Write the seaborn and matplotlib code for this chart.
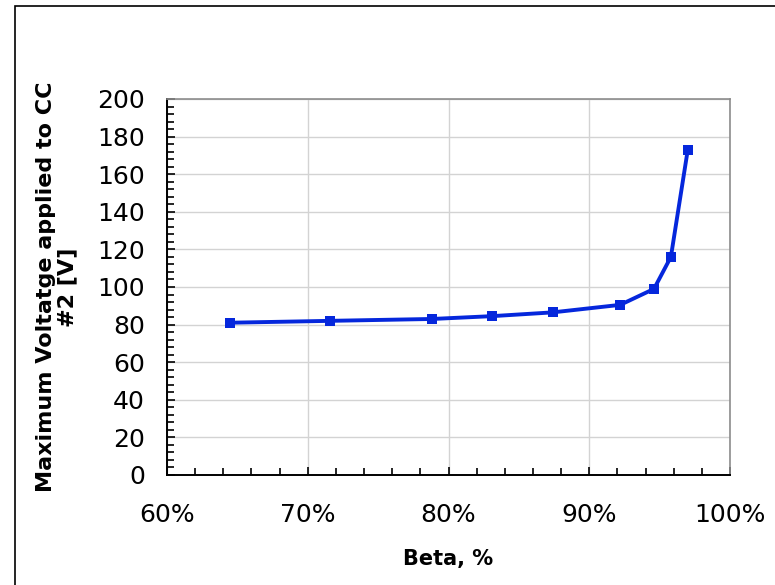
import numpy as np
import pandas as pd
import matplotlib.pyplot as plt
import seaborn as sns
from matplotlib.ticker import MultipleLocator, PercentFormatter
from matplotlib.patches import Rectangle

# values
beta = [0.645, 0.716, 0.7885, 0.831, 0.874, 0.922, 0.946, 0.958, 0.970]
max_voltage = [81, 82, 83, 84.5, 86.5, 90.5, 99, 116, 173]

line_color = "#0527dc"

sns.set_style("white")
plt.rcParams['font.family'] = ['DejaVu Sans']
plt.rcParams['text.color'] = 'black'
plt.rcParams['axes.labelcolor'] = 'black'
plt.rcParams['xtick.color'] = 'black'
plt.rcParams['ytick.color'] = 'black'

df = pd.DataFrame({"beta": beta, "voltage": max_voltage})

fig = plt.figure(figsize=(7.75, 5.85), dpi=100)
ax = fig.add_axes([167/775, 1 - 475/585, (730-167)/775, (475-99)/585])

sns.lineplot(data=df, x="beta", y="voltage", ax=ax, color=line_color,
             linewidth=2.8, marker="s", markersize=7.5, markeredgewidth=0,
             zorder=3)

ax.set_xlim(0.6, 1.0)
ax.set_ylim(0, 200)
ax.xaxis.set_major_locator(MultipleLocator(0.1))
ax.xaxis.set_minor_locator(MultipleLocator(0.02))
ax.yaxis.set_major_locator(MultipleLocator(20))
ax.yaxis.set_minor_locator(MultipleLocator(4))
ax.xaxis.set_major_formatter(PercentFormatter(1.0, decimals=0))

ax.grid(True, which="major", color="#d3d3d3", linewidth=1.0)
ax.set_axisbelow(True)

for side in ["left", "bottom"]:
    ax.spines[side].set_color("black")
    ax.spines[side].set_linewidth(1.4)
for side in ["top", "right"]:
    ax.spines[side].set_color("#8c8c8c")
    ax.spines[side].set_linewidth(1.2)

ax.tick_params(axis="both", which="both", direction="in", color="black",
               width=1.2, labelsize=18, labelcolor="black",
               bottom=True, left=True, top=False, right=False)
ax.tick_params(axis="both", which="major", length=6)
ax.tick_params(axis="both", which="minor", length=5)
ax.tick_params(axis="x", which="major", pad=20)
ax.tick_params(axis="y", which="major", pad=16)

ax.set_xlabel("Beta, %", fontsize=15, fontweight="bold", labelpad=16)
ax.set_ylabel("Maximum Voltatge applied to CC\n#2 [V]", fontsize=16,
              fontweight="bold", labelpad=14, linespacing=1.1)

# outer chart border like the spreadsheet frame
fig.patches.append(Rectangle((15/775, -0.05), 1.0, 1.05 - 6/585,
                             transform=fig.transFigure, fill=False,
                             edgecolor="black", linewidth=1.2))

fig.savefig("out.png", dpi=100)
